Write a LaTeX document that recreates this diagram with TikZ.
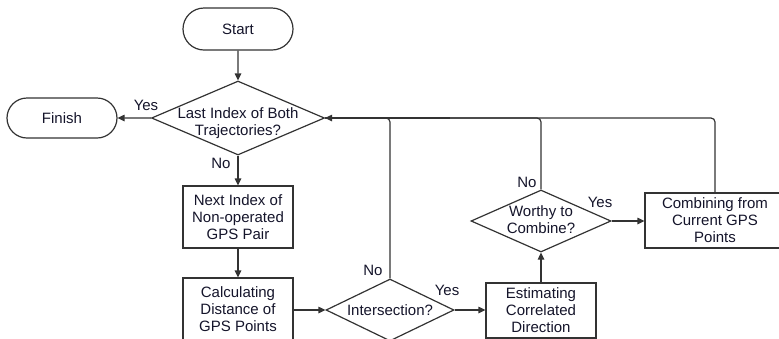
\documentclass[tikz,border=0pt]{standalone}
\usepackage{fontspec}
\setmainfont{Liberation Sans}
\usetikzlibrary{arrows.meta,shapes.geometric,shapes.misc}
\definecolor{ln}{HTML}{333333}
\definecolor{tx}{HTML}{14142A}
\tikzset{
  every node/.style={text=tx,font=\fontsize{15bp}{17bp}\selectfont},
  term/.style={draw=ln,line width=1.2bp,rounded rectangle,minimum width=110bp,inner sep=0pt},
  proc/.style={draw=ln,line width=1.2bp,rectangle,minimum width=110bp,inner sep=0pt,align=center},
  dia/.style={draw=ln,line width=1.2bp,diamond,inner sep=0pt},
  txt/.style={inner sep=0pt,align=center},
  lab/.style={inner sep=0pt},
  conn/.style={draw=ln,line width=1.2bp,-{Triangle[length=7bp,width=6.5bp]}},
  plain/.style={draw=ln,line width=1.2bp,rounded corners=4bp}
}
\begin{document}
\begin{tikzpicture}[x=1bp,y=-1bp]
\useasboundingbox (0,0) rectangle (779,338);
\clip (0,0) rectangle (779,338);
% terminals
\node[term,minimum height=42bp] (start) at (238,29) {Start};
\node[term,minimum height=40bp] (finish) at (62,118) {Finish};
% decision 1
\node[dia,minimum width=173bp,minimum height=74bp] (d1) at (238,118) {};
\node[txt] (d1t) at (238,123) {Last Index of Both\\Trajectories?};
% processes
\node[proc,minimum height=62bp] (next) at (238,217) {Next Index of\\Non-operated\\GPS Pair};
\node[proc,minimum height=62bp] (calc) at (238,309) {Calculating\\Distance of\\GPS Points};
\node[dia,minimum width=128bp,minimum height=62bp] (inter) at (390,310) {};
\node[txt] (intert) at (390,310) {Intersection?};
\node[proc,minimum height=55bp] (est) at (541,310.5) {Estimating\\Correlated\\Direction};
\node[dia,minimum width=140bp,minimum height=62bp] (worthy) at (541,221) {};
\node[txt] (worthyt) at (541,220) {Worthy to\\Combine?};
\node[proc,minimum height=55bp,minimum width=140bp] (comb) at (715,220.5) {Combining from\\Current GPS\\Points};
% connectors
\draw[conn] (start) -- (d1.north);
\draw[conn] (d1.west) -- (finish);
\draw[conn] (d1.south) -- (next);
\draw[conn] (next) -- (calc);
\draw[conn] (calc.east |- inter.west) -- (inter.west);
\draw[conn] (inter.east) -- (est.west |- inter.east);
\draw[conn] (est) -- (worthy.south);
\draw[conn] (worthy.east) -- (comb.west |- worthy.east);
\coordinate (top) at (715,118);
\draw[plain] (comb.north) -- (top) -- (d1.east);
\draw[conn] (450,118) -- (d1.east);
\draw[plain] (worthy.north) |- (d1.east);
\draw[plain] (inter.north) |- (d1.east);
% labels
\node[lab] (y1) at (146,105) {Yes};
\node[lab] (n1) at (221,163) {No};
\node[lab] (n2) at (373,270) {No};
\node[lab] (y2) at (447,290) {Yes};
\node[lab] (n3) at (527,182) {No};
\node[lab] (y3) at (600,202) {Yes};
\end{tikzpicture}
\end{document}
